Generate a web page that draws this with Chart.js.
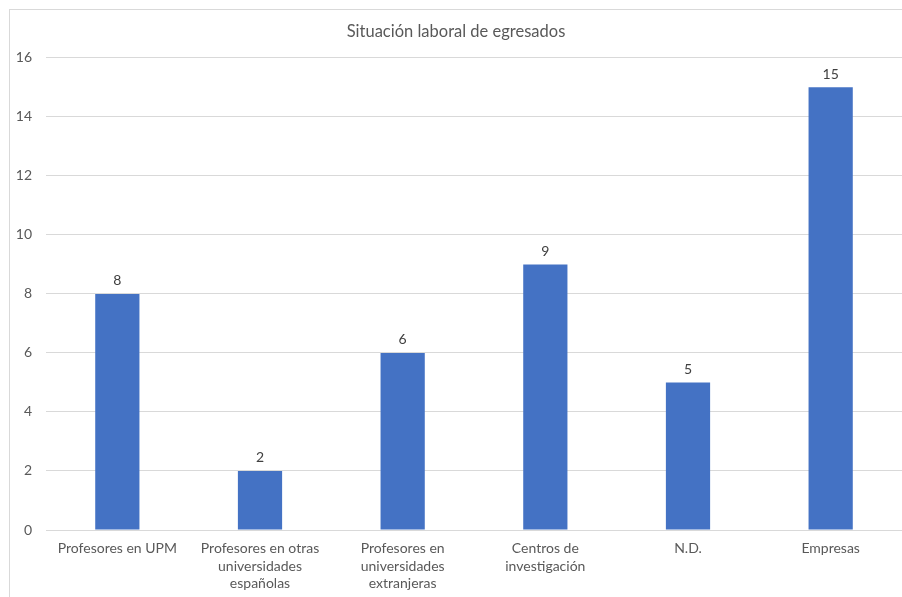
<!DOCTYPE html>
<html>
<head>
<meta charset="utf-8">
<script src="https://cdn.jsdelivr.net/npm/chart.js"></script>
<style>
  html, body { margin: 0; padding: 0; background: #fff; overflow: hidden; }
  #wrap {
    position: absolute; left: 9px; top: 9px;
    width: 904px; height: 590px;
    border-left: 1px solid #d9d9d9; border-top: 1px solid #d9d9d9;
  }
</style>
</head>
<body>
<div id="wrap"><canvas id="myChart" width="904" height="590"></canvas></div>
<script>
const categories = [
  'Profesores en UPM',
  ['Profesores en otras', 'universidades', 'españolas'],
  ['Profesores en', 'universidades', 'extranjeras'],
  ['Centros de', 'investigación'],
  'N.D.',
  'Empresas'
];
const egresados = [8, 2, 6, 9, 5, 15];
const yTicks = [0, 2, 4, 6, 8, 10, 12, 14, 16];

const fontFamily = 'Lato, "Open Sans", sans-serif';

// numbers above each bar
const valueLabels = {
  id: 'valueLabels',
  afterDatasetsDraw(chart) {
    const { ctx } = chart;
    const meta = chart.getDatasetMeta(0);
    ctx.save();
    ctx.font = '14px ' + fontFamily;
    ctx.fillStyle = '#404040';
    ctx.textAlign = 'center';
    ctx.textBaseline = 'bottom';
    meta.data.forEach((bar, i) => {
      ctx.fillText(chart.data.datasets[0].data[i], bar.x, bar.y - 6);
    });
    ctx.restore();
  }
};

const data = {
  labels: categories,
  datasets: [{
    label: 'Egresados',
    data: egresados,
    backgroundColor: '#4472C4',
    borderWidth: 0,
    categoryPercentage: 1,
    barPercentage: 0.31
  }]
};

const config = {
  type: 'bar',
  data,
  options: {
    responsive: false,
    animation: false,
    layout: { padding: { left: 0, right: 12, top: 0, bottom: 0 } },
    plugins: {
      legend: { display: false },
      tooltip: { enabled: false },
      title: {
        display: true,
        text: 'Situación laboral de egresados',
        color: '#595959',
        font: { family: fontFamily, size: 16.5, weight: 'normal' },
        padding: { top: 12, bottom: 16 }
      }
    },
    scales: {
      x: {
        grid: { display: false, drawTicks: false },
        border: { display: false },
        ticks: {
          color: '#595959',
          font: { family: fontFamily, size: 14, lineHeight: 1.25 },
          padding: 10,
          maxRotation: 0,
          autoSkip: false
        },
        afterFit(scale) { scale.height = 70; }
      },
      y: {
        min: yTicks[0],
        max: yTicks[yTicks.length - 1],
        afterBuildTicks(scale) { scale.ticks = yTicks.map(v => ({ value: v })); },
        grid: { color: '#d9d9d9', drawTicks: false },
        border: { display: false },
        ticks: {
          color: '#595959',
          font: { family: fontFamily, size: 14 },
          padding: 14
        },
        afterFit(scale) { scale.width = 36; }
      }
    }
  },
  plugins: [valueLabels]
};

const myChart = new Chart(document.getElementById('myChart'), config);
</script>
</body>
</html>
